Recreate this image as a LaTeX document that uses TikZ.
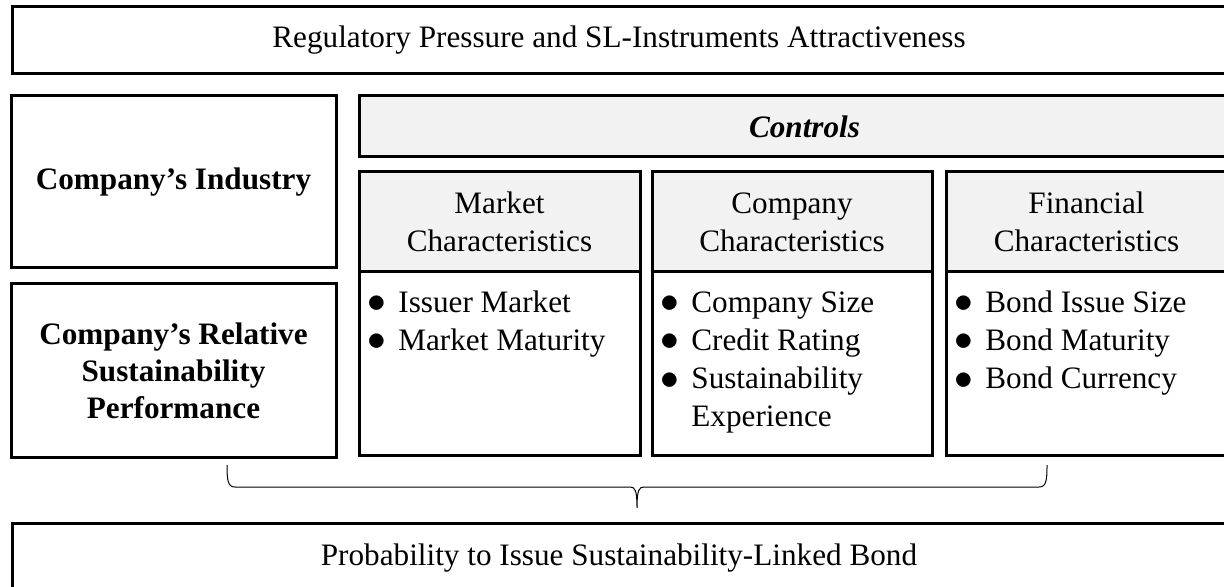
\documentclass[tikz,border=0pt]{standalone}
\usepackage{fontspec}
\usepackage{graphicx}
\setmainfont{Liberation Serif}
\definecolor{hdgray}{HTML}{F2F2F2}
\newcommand{\bul}{\makebox[15.5pt][l]{\scalebox{1.3}{$\bullet$}}}

\begin{document}
\begin{tikzpicture}[x=0.5pt, y=-0.5pt, font=\fontsize{15.6}{19}\selectfont,
  box/.style={draw, line width=1.5pt, inner sep=0pt, align=center},
  hdr/.style={box, fill=hdgray, minimum height=50pt},
  body/.style={box, minimum height=91.5pt},
  lst/.style={anchor=base west, inner sep=0pt}]
\useasboundingbox (0,0) rectangle (1224,587);
\node[box, minimum width=607pt, minimum height=33.5pt] (reg) at (619,40.5) {Regulatory Pressure and SL-Instruments Attractiveness};
\node[box, minimum width=162.5pt, minimum height=86pt, font=\fontsize{15.6}{19}\selectfont\bfseries] (ind) at (173.5,182) {Company’s Industry};
\node[box, minimum width=162.5pt, minimum height=86.5pt, font=\fontsize{15.6}{18.5}\selectfont\bfseries] (rel) at (173.5,370.5) {Company’s Relative\\Sustainability\\Performance};
\node[box, fill=hdgray, minimum width=445.5pt, minimum height=30.5pt, font=\fontsize{15.6}{19}\selectfont\bfseries\itshape] (ctrl) at (804.5,126.5) {Controls};
% the three control groups
\node[body, minimum width=140.5pt] (mbody) at (499.5,363.5) {};
\node[hdr, minimum width=140.5pt] (mhead) at (499.5,222) {Market\\Characteristics};
\node[body, minimum width=140pt] (cbody) at (792,363.5) {};
\node[hdr, minimum width=140pt] (chead) at (792,222) {Company\\Characteristics};
\node[body, minimum width=140.5pt] (fbody) at (1086.5,363.5) {};
\node[hdr, minimum width=140.5pt] (fhead) at (1086.5,222) {Financial\\Characteristics};
\node[lst] (mlist) at (367,313) {\begin{tabular}[t]{@{}l@{}l@{}}\bul & Issuer Market\\ \bul & Market Maturity\end{tabular}};
\node[lst] (clist) at (660,313) {\begin{tabular}[t]{@{}l@{}l@{}}\bul & Company Size\\ \bul & Credit Rating\\ \bul & Sustainability\\ & Experience\end{tabular}};
\node[lst] (flist) at (954,313) {\begin{tabular}[t]{@{}l@{}l@{}}\bul & Bond Issue Size\\ \bul & Bond Maturity\\ \bul & Bond Currency\end{tabular}};
\node[box, minimum width=607pt, minimum height=35pt] (prob) at (619,558) {Probability to Issue Sustainability-Linked Bond};
% brace gathering the factors
\coordinate (bl) at (227,465);
\coordinate (tip) at (637,508);
\coordinate (br) at (1047,465);
\draw[line width=0.5pt] (bl) .. controls (227,481) and (228,487) .. (235,487) -- (630,487)
  .. controls (635,487) and (637,490) .. (tip) .. controls (637,490) and (639,487) .. (644,487)
  -- (1039,487) .. controls (1046,487) and (1047,481) .. (br);
\end{tikzpicture}
\end{document}
